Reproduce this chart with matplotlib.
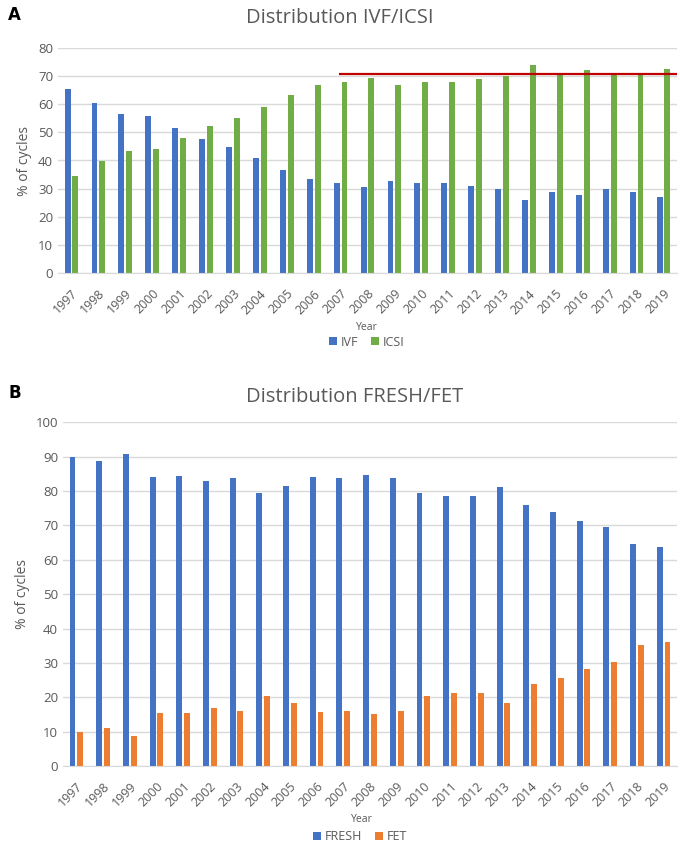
import numpy as np
import matplotlib
matplotlib.use("Agg")
from matplotlib import pyplot as plt

years = [str(y) for y in range(1997, 2020)]

ivf = [65.2, 60.3, 56.6, 55.9, 51.6, 47.6, 44.9, 40.9, 36.6, 33.3, 32.0, 30.6,
       32.8, 32.0, 32.0, 31.0, 30.0, 26.0, 28.9, 27.6, 29.8, 28.9, 27.2]
icsi = [34.6, 39.7, 43.4, 44.1, 48.1, 52.3, 55.1, 59.0, 63.2, 66.7, 67.9, 69.2,
        66.9, 67.9, 67.9, 68.9, 70.0, 73.9, 70.9, 72.2, 70.6, 70.8, 72.6]
icsi_ref = 70.6  # red reference line from 2007 onwards

fresh = [89.8, 88.7, 90.9, 84.2, 84.3, 82.9, 83.9, 79.5, 81.5, 84.0, 83.8, 84.6,
         83.7, 79.3, 78.7, 78.6, 81.2, 75.8, 73.8, 71.4, 69.5, 64.6, 63.7]
fet = [9.9, 11.2, 8.8, 15.5, 15.4, 16.9, 15.9, 20.3, 18.2, 15.7, 15.9, 15.1,
       16.0, 20.5, 21.1, 21.1, 18.4, 23.9, 25.7, 28.3, 30.2, 35.3, 36.0]

plt.rcParams['font.family'] = ['Open Sans', 'DejaVu Sans']
grey = '#595959'
W, H = 680, 848

fig = plt.figure(figsize=(6.8, 8.48), dpi=100)

pos = np.arange(len(years))
w = 0.22
off = 0.145


def style(ax, ymax):
    ax.set_xlim(-0.5, len(years) - 0.5)
    ax.set_ylim(0, ymax)
    ax.set_yticks(np.arange(0, ymax + 1, 10))
    ax.yaxis.grid(True, color='#d9d9d9', linewidth=1)
    ax.set_axisbelow(True)
    for s in ['top', 'right', 'left']:
        ax.spines[s].set_visible(False)
    ax.spines['bottom'].set_color('#d9d9d9')
    ax.tick_params(length=0, colors=grey, labelsize=9.5)
    ax.set_xticks(pos)
    ax.set_xticklabels(years, rotation=45, ha='right', rotation_mode='anchor',
                       fontsize=9, color=grey)
    ax.tick_params(axis='x', pad=10)
    ax.set_ylabel('% of cycles', fontsize=10, color=grey, labelpad=4)


def box(l, t, r, b):
    return [l / W, 1 - b / H, (r - l) / W, (b - t) / H]


# panel A
ax1 = fig.add_axes(box(58, 47.7, 677, 273.3))
ax1.bar(pos - off, ivf, w, color='#4472C4', label='IVF')
ax1.bar(pos + off, icsi, w, color='#70AD47', label='ICSI')
ax1.hlines(icsi_ref, 9.95, len(years) - 0.5, color='#C00000', linewidth=1.6)
style(ax1, 80)
fig.text(340 / W, 1 - 18 / H, 'Distribution IVF/ICSI', ha='center', va='center',
         fontsize=14.5, color=grey)
fig.text(8 / W, 1 - 15 / H, 'A', ha='left', va='center', fontsize=12,
         fontweight='bold', color='black', family='DejaVu Sans')
fig.text(367 / W, 1 - 328 / H, 'Year', ha='center', va='center', fontsize=7.5,
         color=grey)
fig.legend(handles=ax1.get_legend_handles_labels()[0], loc='center',
           bbox_to_anchor=(367 / W, 1 - 342 / H), ncol=2, frameon=False,
           fontsize=9, handlelength=0.65, handleheight=0.65, handletextpad=0.3,
           columnspacing=1.0, labelcolor=grey, borderpad=0)

# panel B
ax2 = fig.add_axes(box(63, 422.3, 677, 766))
ax2.bar(pos - off, fresh, w, color='#4472C4', label='FRESH')
ax2.bar(pos + off, fet, w, color='#ED7D31', label='FET')
style(ax2, 100)
fig.text(355 / W, 1 - 397 / H, 'Distribution FRESH/FET', ha='center', va='center',
         fontsize=14.5, color=grey)
fig.text(8 / W, 1 - 393 / H, 'B', ha='left', va='center', fontsize=12,
         fontweight='bold', color='black', family='DejaVu Sans')
fig.text(362 / W, 1 - 820 / H, 'Year', ha='center', va='center', fontsize=7.5,
         color=grey)
fig.legend(handles=ax2.get_legend_handles_labels()[0], loc='center',
           bbox_to_anchor=(360 / W, 1 - 837 / H), ncol=2, frameon=False,
           fontsize=9, handlelength=0.65, handleheight=0.65, handletextpad=0.3,
           columnspacing=1.0, labelcolor=grey, borderpad=0)

fig.savefig('out.png', dpi=100, facecolor='white')
